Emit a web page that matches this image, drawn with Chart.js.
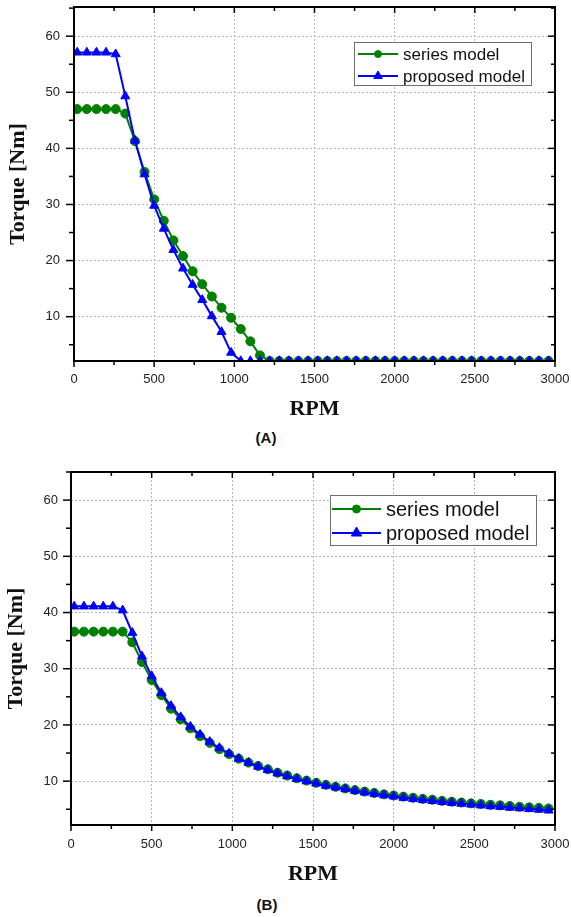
<!DOCTYPE html>
<html lang="en">
<head>
  <meta charset="UTF-8" />
  <title>Torque vs RPM</title>
  <script src="https://cdn.jsdelivr.net/npm/chart.js"></script>
  <style>
    body { margin: 0; background: #fff; width: 571px; height: 917px; position: relative; overflow: hidden; }
    .panel { position: absolute; left: 0; }
    .tag { position: absolute; width: 60px; text-align: center; font: bold 15px "Liberation Sans", Arial, sans-serif; color: #111; }
  </style>
</head>
<body>

  <!-- Panel A -->
  <div class="panel" style="top:0">
    <canvas id="chartA" width="571" height="427"></canvas>
  </div>
  <div class="tag" style="left:236px; top:429px">(A)</div>

  <!-- Panel B -->
  <div class="panel" style="top:460px">
    <canvas id="chartB" width="571" height="432"></canvas>
  </div>
  <div class="tag" style="left:237px; top:896px">(B)</div>

  <script>
    // speed samples (RPM) shared by all curves
    const rpm = [20, 80, 140, 200, 260, 320, 380, 440, 500, 560, 620, 680, 740, 800, 860, 920, 980,
      1040, 1100, 1160, 1220, 1280, 1340, 1400, 1460, 1520, 1580, 1640, 1700, 1760, 1820, 1880, 1940,
      2000, 2060, 2120, 2180, 2240, 2300, 2360, 2420, 2480, 2540, 2600, 2660, 2720, 2780, 2840, 2900, 2960];

    // (A) torque [Nm]
    const seriesA = [47.0, 47.0, 47.0, 47.0, 47.0, 46.2, 41.3, 35.8, 30.9, 27.1, 23.6, 20.8, 18.1, 15.8, 13.6, 11.6, 9.8,
      7.8, 5.6, 3.1, 2.1, 2.1, 2.1, 2.1, 2.1, 2.1, 2.1, 2.1, 2.1, 2.1, 2.1, 2.1, 2.1,
      2.1, 2.1, 2.1, 2.1, 2.1, 2.1, 2.1, 2.1, 2.1, 2.1, 2.1, 2.1, 2.1, 2.1, 2.1, 2.1, 2.1];
    const proposedA = [57.1, 57.1, 57.1, 57.1, 56.8, 49.3, 41.4, 35.4, 29.8, 25.7, 21.9, 18.6, 15.7, 13.0, 10.1, 7.3, 3.6,
      2.1, 2.1, 2.1, 2.1, 2.1, 2.1, 2.1, 2.1, 2.1, 2.1, 2.1, 2.1, 2.1, 2.1, 2.1, 2.1,
      2.1, 2.1, 2.1, 2.1, 2.1, 2.1, 2.1, 2.1, 2.1, 2.1, 2.1, 2.1, 2.1, 2.1, 2.1, 2.1, 2.1];

    // (B) torque [Nm]
    const seriesB = [36.6, 36.6, 36.6, 36.6, 36.6, 36.6, 34.7, 31.2, 28.0, 25.3, 22.9, 21.0, 19.4, 18.0, 16.8, 15.7, 14.8,
      14.0, 13.3, 12.7, 12.1, 11.5, 11.0, 10.5, 10.1, 9.7, 9.35, 9.0, 8.7, 8.4, 8.15, 7.9, 7.65,
      7.45, 7.25, 7.05, 6.85, 6.7, 6.5, 6.35, 6.2, 6.05, 5.95, 5.8, 5.7, 5.6, 5.45, 5.35, 5.25, 5.15];
    const proposedB = [41.1, 41.1, 41.1, 41.1, 41.1, 40.4, 36.4, 32.2, 28.7, 25.7, 23.4, 21.4, 19.7, 18.3, 17.0, 15.9, 14.9,
      14.0, 13.3, 12.6, 12.0, 11.4, 10.9, 10.4, 10.0, 9.6, 9.2, 8.9, 8.6, 8.3, 8.0, 7.75, 7.5,
      7.3, 7.05, 6.85, 6.65, 6.5, 6.3, 6.15, 6.0, 5.85, 5.7, 5.55, 5.45, 5.3, 5.2, 5.05, 4.95, 4.8];

    const seriesLabels = ['series model', 'proposed model'];

    // axis ticks
    const xTicks = [0, 500, 1000, 1500, 2000, 2500, 3000];
    const xMinor = [250, 750, 1250, 1750, 2250, 2750];
    const yTicks = [10, 20, 30, 40, 50, 60];
    const yMinor = [5, 15, 25, 35, 45, 55, 65];

    const GREEN = '#008000';
    const BLUE = '#0000ff';

    // black frame + Origin-style tick marks (out on left/bottom, in on top/right)
    const axesFrame = {
      id: 'axesFrame',
      afterDatasetsDraw(chart) {
        const { ctx, chartArea: a, scales: { x, y } } = chart;
        const seg = (x1, y1, x2, y2) => { ctx.beginPath(); ctx.moveTo(x1, y1); ctx.lineTo(x2, y2); ctx.stroke(); };
        ctx.save();
        ctx.strokeStyle = '#000';
        ctx.lineWidth = 1.5;
        xTicks.concat(xMinor).forEach(v => {
          const len = xTicks.includes(v) ? 6 : 4;
          const px = x.getPixelForValue(v);
          seg(px, a.bottom, px, a.bottom + len);
          seg(px, a.top, px, a.top + len);
        });
        yTicks.concat(yMinor).forEach(v => {
          if (v < y.min || v > y.max) return;
          const major = yTicks.includes(v);
          const py = y.getPixelForValue(v);
          seg(a.left - (major ? 8 : 5), py, a.left, py);
          seg(a.right - (major ? 7 : 4), py, a.right, py);
        });
        ctx.lineWidth = 2;
        ctx.strokeRect(a.left, a.top, a.right - a.left, a.bottom - a.top);
        ctx.restore();
      }
    };

    // boxed legend sitting inside the plot
    const boxLegend = {
      id: 'boxLegend',
      afterDraw(chart, args, o) {
        const ctx = chart.ctx;
        ctx.save();
        ctx.fillStyle = '#fff';
        ctx.fillRect(o.x, o.y, o.w, o.h);
        ctx.strokeStyle = '#6e6e6e';
        ctx.lineWidth = 1;
        ctx.strokeRect(o.x + 0.5, o.y + 0.5, o.w, o.h);
        chart.data.datasets.forEach((ds, i) => {
          const cy = o.rows[i];
          ctx.strokeStyle = ds.borderColor;
          ctx.fillStyle = ds.borderColor;
          ctx.lineWidth = 2;
          ctx.beginPath(); ctx.moveTo(o.x0, cy); ctx.lineTo(o.x1, cy); ctx.stroke();
          ctx.lineWidth = 1;
          Chart.helpers.drawPoint(ctx, { pointStyle: ds.pointStyle, radius: o.marker[i], borderWidth: 1, rotation: 0 }, (o.x0 + o.x1) / 2, cy);
          ctx.fillStyle = '#111';
          ctx.font = o.font;
          ctx.textBaseline = 'middle';
          ctx.fillText(ds.label, o.tx, cy + 1);
        });
        ctx.restore();
      }
    };

    // fix an axis box to an exact size and drop the label overhang padding
    const fixBox = (s, prop, size) => {
      s[prop] = size;
      s.paddingTop = 0; s.paddingBottom = 0; s.paddingLeft = 0; s.paddingRight = 0;
    };

    function makeChart(id, seriesVals, proposedVals, cfg) {
      const pts = vals => rpm.map((r, i) => ({ x: r, y: vals[i] }));
      return new Chart(document.getElementById(id), {
        type: 'line',
        data: {
          datasets: [{
            label: seriesLabels[0],
            data: pts(seriesVals),
            borderColor: GREEN,
            backgroundColor: GREEN,
            borderWidth: 2,
            pointStyle: 'circle',
            pointRadius: 4.5,
            pointBorderWidth: 1,
            tension: 0,
            order: 1
          }, {
            label: seriesLabels[1],
            data: pts(proposedVals),
            borderColor: BLUE,
            backgroundColor: BLUE,
            borderWidth: 2,
            pointStyle: 'triangle',
            pointRadius: 5.2,
            pointBorderWidth: 1,
            tension: 0,
            order: 0
          }]
        },
        options: {
          responsive: false,
          animation: false,
          layout: { padding: { top: cfg.top, right: 16, left: 0, bottom: 0 } },
          plugins: {
            legend: { display: false },
            tooltip: { enabled: false },
            boxLegend: cfg.legend
          },
          scales: {
            x: {
              type: 'linear',
              min: 0, max: 3000,
              afterBuildTicks: s => { s.ticks = xTicks.map(v => ({ value: v })); },
              afterFit: s => fixBox(s, 'height', cfg.xHeight),
              ticks: { padding: cfg.xPad, color: '#222', maxRotation: 0, callback: v => String(v),
                font: { family: 'Liberation Sans', size: 13 } },
              grid: { color: '#b5b5b5', lineWidth: 1, drawTicks: false },
              border: { display: false, dash: [2, 2] },
              title: {
                display: true, text: 'RPM', color: '#111',
                padding: { top: 0, bottom: 4 },
                font: { family: 'Liberation Serif', size: 22, weight: 'bold' }
              }
            },
            y: {
              type: 'linear',
              min: cfg.yMin, max: cfg.yMax,
              afterBuildTicks: s => { s.ticks = yTicks.map(v => ({ value: v })); },
              afterFit: s => fixBox(s, 'width', cfg.yWidth),
              ticks: { padding: cfg.yPad, color: '#222', callback: v => String(v),
                font: { family: 'Liberation Sans', size: 13 } },
              grid: { color: '#b5b5b5', lineWidth: 1, drawTicks: false },
              border: { display: false, dash: [2, 2] },
              title: {
                display: true, text: 'Torque [Nm]', color: '#111',
                padding: { top: cfg.yTitlePad, bottom: 0 },
                font: { family: 'Liberation Serif', size: 22, weight: 'bold' }
              }
            }
          }
        },
        plugins: [axesFrame, boxLegend]
      });
    }

    makeChart('chartA', seriesA, proposedA, {
      top: 7, xHeight: 66, yWidth: 74, yMin: 2.1, yMax: 65.2,
      xPad: 11, yPad: 14, yTitlePad: 5,
      legend: { x: 354, y: 42, w: 177, h: 43, rows: [54, 76], x0: 358, x1: 398, tx: 403,
        marker: [3.5, 5], font: '17px "Liberation Sans"' }
    });

    makeChart('chartB', seriesB, proposedB, {
      top: 12, xHeight: 67, yWidth: 71, yMin: 2.2, yMax: 65.0,
      xPad: 12, yPad: 13, yTitlePad: 3,
      legend: { x: 330, y: 35, w: 206, h: 50, rows: [49, 73], x0: 332, x1: 381, tx: 386,
        marker: [4, 6], font: '20px "Liberation Sans"' }
    });
  </script>
</body>
</html>
